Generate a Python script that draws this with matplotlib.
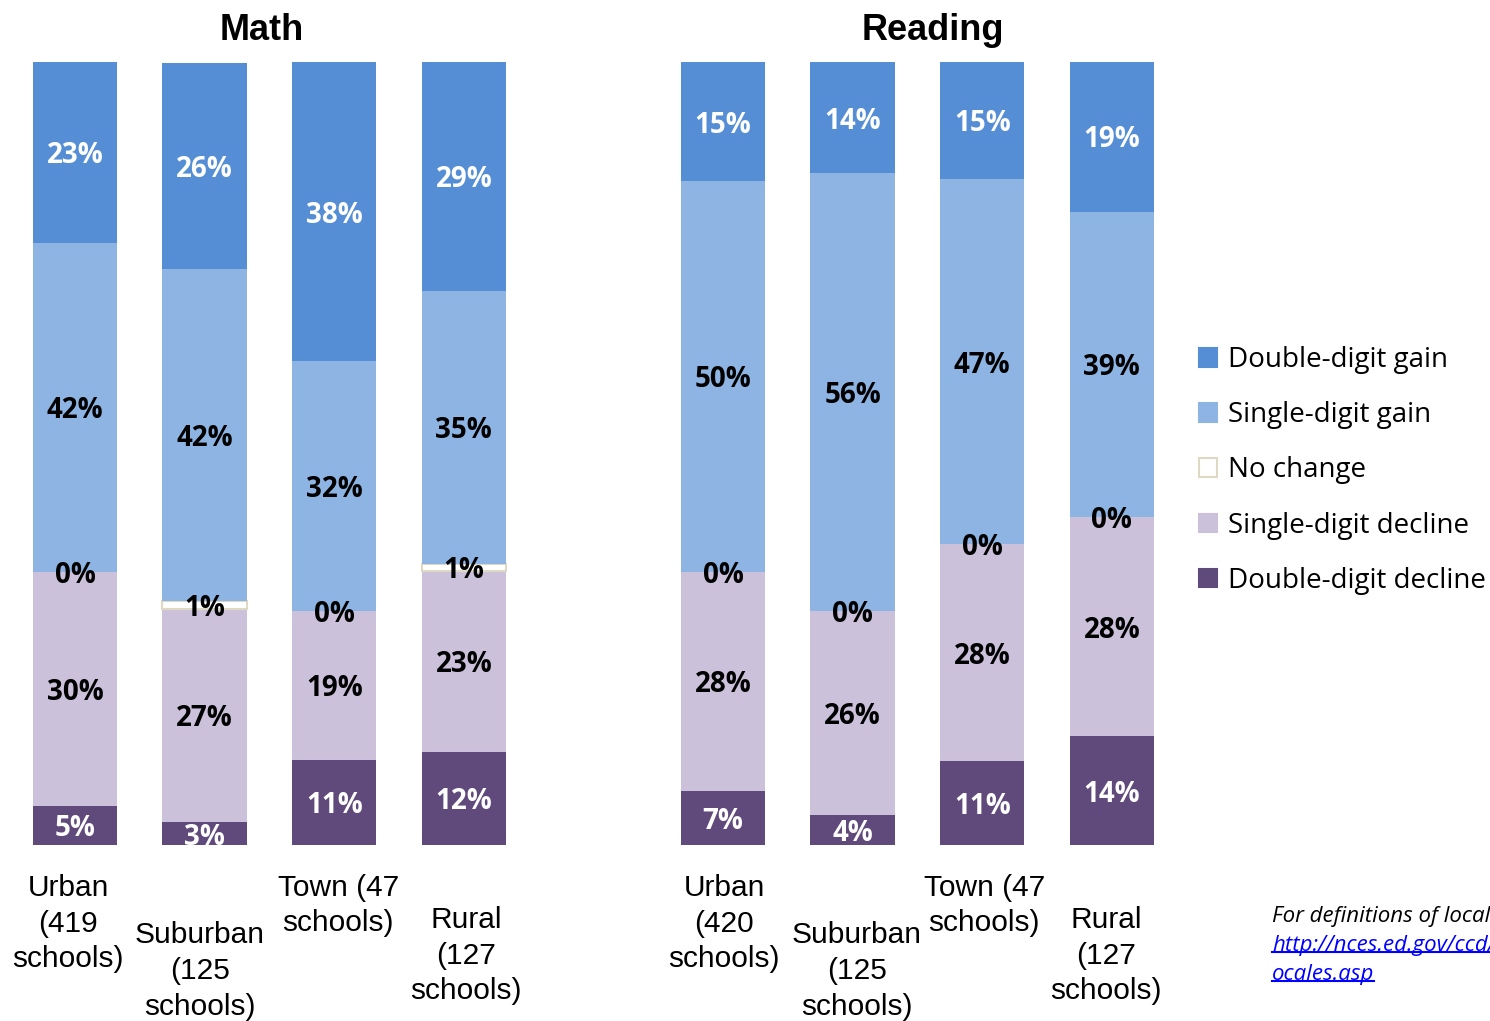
import numpy as np
import matplotlib
matplotlib.use("Agg")
import matplotlib.pyplot as plt
import matplotlib.transforms as mtransforms
from matplotlib.patches import Patch
from matplotlib.lines import Line2D

# ---- data (percent of schools) ----
groups = ["Math", "Reading"]
categories = ["Urban\n(419\nschools)", "Suburban\n(125\nschools)", "Town (47\nschools)", "Rural\n(127\nschools)",
              "Urban\n(420\nschools)", "Suburban\n(125\nschools)", "Town (47\nschools)", "Rural\n(127\nschools)"]
series_names = ["Double-digit decline", "Single-digit decline", "No change", "Single-digit gain", "Double-digit gain"]

dbl_decline = [5.0, 2.9, 10.9, 11.9, 6.9, 3.8, 10.7, 13.9]
sgl_decline = [29.9, 27.3, 19.0, 23.1, 28.0, 26.1, 27.7, 28.0]
no_change = [0.0, 0.9, 0.0, 0.9, 0.0, 0.0, 0.0, 0.0]
sgl_gain = [42.0, 42.4, 31.9, 34.9, 49.9, 55.9, 46.6, 39.0]
dbl_gain = [23.1, 26.4, 38.2, 29.2, 15.2, 14.2, 15.1, 19.2]

x_pos = [0, 1, 2, 3, 5, 6, 7, 8]

# ---- style ----
colors = ["#604A7B", "#CCC1DA", "#FFFFFF", "#8EB4E3", "#558ED5"]
label_colors = ["white", "black", "black", "black", "white"]
EDGE_NC = "#DDD9C3"
BAR_W = 0.65
DPI = 100
H = 1021.0
PX = 129.6  # pixels per x unit

fig = plt.figure(figsize=(14.9, 10.21), dpi=DPI)
ax = fig.add_axes([10 / 1490, (H - 845) / H, 1170 / 1490, 783 / H])
ax.set_xlim(-0.5015, 8.526)
ax.set_ylim(0, 100)
ax.axis("off")

series = [dbl_decline, sgl_decline, no_change, sgl_gain, dbl_gain]
bottom = np.zeros(len(x_pos))
for i, vals in enumerate(series):
    vals = np.asarray(vals, dtype=float)
    if series_names[i] == "No change":
        lw = [1.5 if v > 0 else 0 for v in vals]
        ax.bar(x_pos, vals, BAR_W, bottom=bottom, color=colors[i],
               edgecolor=EDGE_NC, linewidth=lw)
    else:
        ax.bar(x_pos, vals, BAR_W, bottom=bottom, color=colors[i], linewidth=0)
    for x, v, b in zip(x_pos, vals, bottom):
        ax.text(x, b + v / 2, f"{int(round(v))}%", ha="center", va="center_baseline",
                color=label_colors[i], fontsize=20, fontweight="bold",
                family="Open Sans")
    bottom += vals

# group titles
ttr = mtransforms.blended_transform_factory(ax.transData, fig.transFigure)
ax.text(1.44, (H - 30) / H, groups[0], transform=ttr,
        ha="center", va="center", fontsize=26, fontweight="bold", family="Liberation Sans")
ax.text(6.62, (H - 30) / H, groups[1], transform=ttr,
        ha="center", va="center", fontsize=26, fontweight="bold", family="Liberation Sans")

# category labels (staggered like the original)
label_y_px = [923.5, 971, 905.5, 955.5, 923.5, 971, 905.5, 955.5]
label_dx_px = [-7, -5, 4, 2, 1, 4, 2, -6]
for x, lab, ypx, dx in zip(x_pos, categories, label_y_px, label_dx_px):
    ax.text(x + dx / PX, (H - ypx) / H, lab, transform=ttr, ha="center", va="center",
            fontsize=21.5, family="Liberation Sans", linespacing=1.35, clip_on=False)

# legend
handles = [Patch(facecolor=colors[i], edgecolor=(EDGE_NC if series_names[i] == "No change" else colors[i]),
                 linewidth=1.5, label=series_names[i]) for i in range(4, -1, -1)]
fig.legend(handles=handles, loc="upper left", bbox_to_anchor=(1199 / 1490, (H - 346) / H),
           frameon=False, prop={"family": "Open Sans", "size": 20},
           handlelength=0.65, handleheight=0.65, handletextpad=0.4, labelspacing=0.98,
           borderpad=0, borderaxespad=0)

# footnote
note_x = 1272 / 1490
fig.text(note_x, (H - 916) / H, "For definitions of locale, see:", ha="left", va="center",
         fontsize=16, style="italic", family="Open Sans")
links = []
for txt, ypx in [("http://nces.ed.gov/ccd/rural_l", 945), ("ocales.asp", 974)]:
    links.append(fig.text(note_x, (H - ypx) / H, txt, ha="left", va="center",
                          fontsize=16, style="italic", family="Open Sans", color="#0000FF"))

fig.canvas.draw()
renderer = fig.canvas.get_renderer()
for t in links:
    bb = t.get_window_extent(renderer).transformed(fig.transFigure.inverted())
    fig.add_artist(Line2D([bb.x0, bb.x1], [bb.y0 + 0.003, bb.y0 + 0.003],
                          transform=fig.transFigure, color="#0000FF", linewidth=1.5))

fig.savefig("out.png", dpi=DPI)
